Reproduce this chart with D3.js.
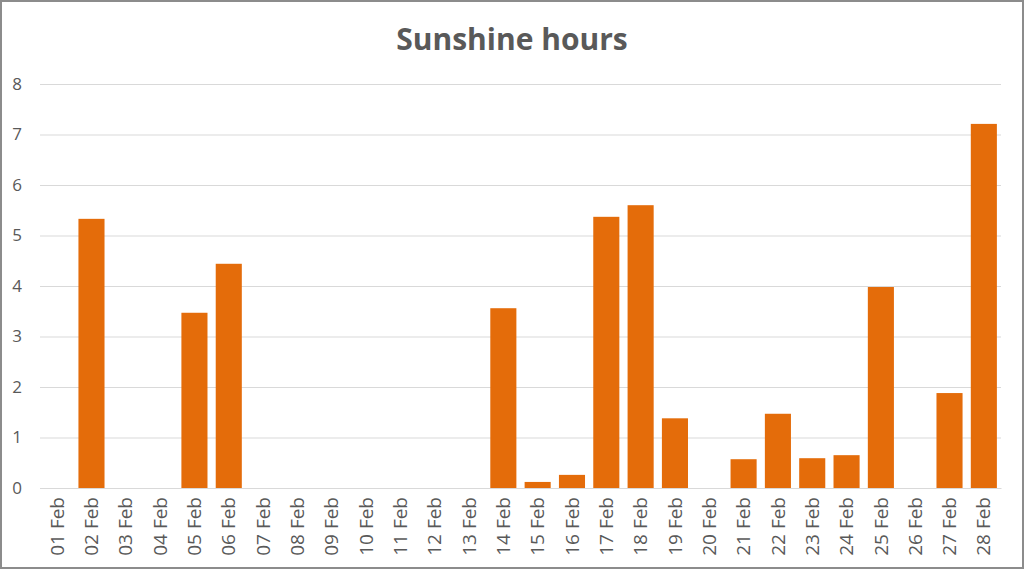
<!DOCTYPE html>
<html>
<head>
<meta charset="utf-8">
<script src="https://cdn.jsdelivr.net/npm/d3@7"></script>
<style>
  body { margin: 0; background: #fff; }
  text { font-family: "Open Sans", sans-serif; fill: #595959; }
</style>
</head>
<body>
<svg width="1024" height="569"></svg>
<script>
const days = ["01 Feb", "02 Feb", "03 Feb", "04 Feb", "05 Feb", "06 Feb", "07 Feb",
  "08 Feb", "09 Feb", "10 Feb", "11 Feb", "12 Feb", "13 Feb", "14 Feb",
  "15 Feb", "16 Feb", "17 Feb", "18 Feb", "19 Feb", "20 Feb", "21 Feb",
  "22 Feb", "23 Feb", "24 Feb", "25 Feb", "26 Feb", "27 Feb", "28 Feb"];
const hours = [0, 5.33, 0, 0, 3.47, 4.44, 0,
  0, 0, 0, 0, 0, 0, 3.56,
  0.12, 0.26, 5.37, 5.6, 1.38, 0, 0.57,
  1.47, 0.59, 0.65, 3.98, 0, 1.88, 7.21];
const yTicks = [0, 1, 2, 3, 4, 5, 6, 7, 8];

const svg = d3.select("svg");
const width = +svg.attr("width");
const height = +svg.attr("height");

const data = days.map((d, i) => ({ day: d, value: hours[i] }));

const margin = { top: 84, right: 23, bottom: 81, left: 40 };
const innerWidth = width - margin.left - margin.right;
const innerHeight = height - margin.top - margin.bottom;

// outer frame
svg.append("rect")
  .attr("x", 1).attr("y", 1)
  .attr("width", width - 2).attr("height", height - 2)
  .attr("fill", "#fff")
  .attr("stroke", "#8c8c8c")
  .attr("stroke-width", 2);

svg.append("text")
  .attr("x", width / 2)
  .attr("y", 50)
  .attr("text-anchor", "middle")
  .attr("font-size", 30)
  .attr("font-weight", "bold")
  .text("Sunshine hours");

const xScale = d3.scaleBand()
  .domain(days)
  .range([0, innerWidth])
  .paddingInner(0.24)
  .paddingOuter(0.12);

const yScale = d3.scaleLinear()
  .domain([0, 8])
  .range([innerHeight, 0]);

const g = svg.append("g")
  .attr("transform", `translate(${margin.left},${margin.top})`);

const yAxisG = g.append("g")
  .call(d3.axisLeft(yScale).tickValues(yTicks).tickSize(-innerWidth).tickPadding(12));
yAxisG.select(".domain").remove();
yAxisG.selectAll(".tick line").attr("stroke", "#d9d9d9").attr("stroke-width", 1);
yAxisG.selectAll(".tick text")
  .attr("font-size", 17)
  .attr("fill", "#595959")
  .attr("x", -18);

g.selectAll("rect.bar")
  .data(data)
  .enter()
  .append("rect")
  .attr("class", "bar")
  .attr("x", d => xScale(d.day))
  .attr("y", d => yScale(d.value))
  .attr("width", xScale.bandwidth())
  .attr("height", d => innerHeight - yScale(d.value))
  .attr("fill", "#e46c0a");

const xAxisG = g.append("g")
  .attr("transform", `translate(0,${innerHeight})`)
  .call(d3.axisBottom(xScale).tickSize(0).tickPadding(0));
xAxisG.select(".domain").attr("stroke", "#d9d9d9");
xAxisG.selectAll(".tick text")
  .attr("font-size", 19)
  .attr("fill", "#595959")
  .attr("text-anchor", "end")
  .attr("dy", "0.35em")
  .attr("transform", "translate(0,9) rotate(-90)")
  .attr("y", 0)
  .attr("x", 0);
</script>
</body>
</html>
